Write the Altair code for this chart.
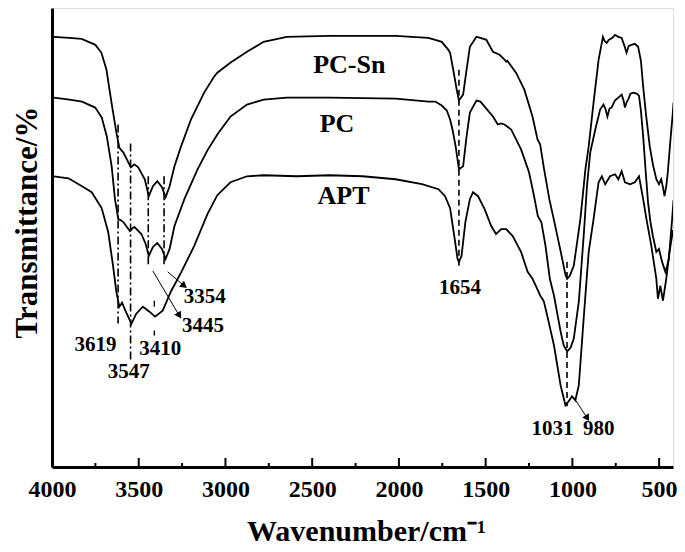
import altair as alt
import pandas as pd

FONT = "Liberation Serif"

# ---- spectra (wavenumber cm-1, transmittance in arbitrary offset units) ----
pcsn_wn = [3990, 3900, 3829, 3750, 3715, 3686, 3657, 3629, 3612, 3600, 3589, 3560, 3545, 3525, 3503,
           3465, 3442, 3418, 3393, 3366, 3345, 3322, 3294, 3256, 3199, 3123, 3066, 3047, 2972, 2876,
           2780, 2647, 2402, 2019, 1831, 1791, 1753, 1715, 1705, 1687, 1667, 1654, 1630, 1610, 1591,
           1553, 1530, 1496, 1458, 1420, 1390, 1382, 1375, 1325, 1277, 1230, 1201, 1186, 1163, 1133,
           1105, 1067, 1040, 1030, 1015, 992, 954, 925, 906, 878, 849, 824, 815, 802, 790, 770, 754,
           735, 716, 700, 688, 675, 659, 640, 621, 605, 592, 575, 554, 535, 516, 501, 488, 478, 469,
           458, 450, 435, 421, 417]
pcsn_t = [444, 443, 442, 436, 428, 411, 378, 348, 333, 330, 328, 318, 313, 316, 313,
          301, 284, 294, 299, 293, 283, 294, 314, 334, 361, 388, 404, 408, 418, 429,
          439, 444, 445, 445, 443, 441, 439, 431, 428, 411, 391, 380, 386, 411, 434,
          444, 443, 441, 429, 426, 421, 419, 420, 408, 391, 364, 341, 336, 311, 281,
          259, 228, 205, 201, 204, 214, 261, 311, 334, 378, 421, 444, 440, 438, 441, 443, 446,
          444, 443, 435, 428, 435, 436, 437, 434, 420, 394, 365, 334, 315, 301, 296, 301, 293, 284,
          295, 308, 340, 368, 378]

pc_wn = [3990, 3900, 3827, 3751, 3713, 3684, 3656, 3637, 3618, 3605, 3589, 3551, 3535, 3524, 3485,
         3460, 3442, 3418, 3393, 3366, 3345, 3322, 3294, 3237, 3161, 3104, 3047, 2971, 2876, 2780,
         2647, 2400, 2019, 1829, 1791, 1753, 1724, 1705, 1690, 1673, 1654, 1630, 1610, 1591, 1553,
         1530, 1506, 1458, 1430, 1410, 1392, 1353, 1296, 1250, 1221, 1199, 1179, 1155, 1130, 1106,
         1068, 1050, 1030, 1010, 992, 963, 935, 916, 897, 868, 840, 821, 810, 798, 786, 774, 755,
         735, 716, 705, 697, 688, 679, 665, 650, 630, 616, 605, 592, 578, 564, 550, 536, 516, 501,
         483, 464, 454, 444, 425, 417]
pc_t = [383, 381, 379, 373, 363, 344, 314, 281, 261, 260, 258, 249, 252, 253, 246,
        236, 224, 233, 237, 231, 221, 231, 254, 281, 311, 330, 346, 364, 376, 381,
        383, 383, 382, 379, 379, 375, 370, 361, 350, 334, 311, 314, 344, 368, 380,
        379, 374, 364, 356, 357, 356, 351, 331, 308, 284, 264, 258, 234, 201, 184,
        148, 134, 128, 132, 141, 178, 244, 294, 328, 351, 371, 376, 372, 364, 372, 373, 380,
        383, 386, 380, 373, 378, 381, 387, 388, 387, 385, 370, 344, 310, 278, 258, 244, 228, 231,
        218, 208, 214, 221, 261, 280]

apt_wn = [3990, 3905, 3827, 3771, 3714, 3676, 3648, 3629, 3612, 3596, 3577, 3542, 3514, 3476, 3438,
          3406, 3362, 3315, 3257, 3180, 3104, 3047, 2971, 2876, 2780, 2590, 2400, 2210, 2019, 1867,
          1772, 1734, 1705, 1681, 1662, 1654, 1639, 1617, 1591, 1573, 1544, 1506, 1468, 1440, 1411,
          1382, 1344, 1296, 1258, 1230, 1200, 1185, 1170, 1164, 1145, 1106, 1068, 1040, 1021, 1002,
          983, 963, 935, 906, 878, 849, 830, 811, 783, 754, 735, 716, 697, 668, 640, 616, 592, 573,
          545, 516, 507, 493, 478, 459, 440, 420]
apt_t = [304, 302, 294, 288, 272, 248, 214, 188, 173, 177, 169, 156, 166, 173, 168,
         163, 169, 188, 207, 234, 266, 285, 298, 304, 305, 304, 305, 304, 301, 296,
         291, 284, 272, 244, 221, 218, 224, 258, 281, 288, 284, 271, 254, 246, 251,
         251, 244, 228, 208, 201, 190, 184, 180, 178, 164, 134, 94, 74, 78, 83,
         79, 94, 161, 228, 261, 298, 304, 296, 304, 306, 301, 309, 298, 296, 298, 304, 281, 261,
         234, 201, 181, 194, 179, 201, 228, 250]

# ---- curve labels ----
name_text = ["PC-Sn", "PC", "APT"]
name_wn = [2286, 2357, 2319]
name_t = [408, 348, 276]

# ---- peak labels ----
peak_text = ["3354", "3445", "3619", "3410", "3547", "1654", "1031", "980"]
peak_wn = [3119, 3129, 3749, 3376, 3557, 1648, 1115, 848]
peak_t = [177, 148, 129, 124, 101, 186, 44, 44]

# ---- vertical marker lines ----
dash_wn = [1654, 1031]
dash_top = [411, 218]
dash_bot = [214, 73]
dashdot_wn = [3619, 3547, 3445, 3354]
dashdot_top = [356, 337, 304, 304]
dashdot_bot = [156, 119, 214, 214]
short_wn = [3410, 3410]
short_top = [179, 149]
short_bot = [173, 144]

# ---- arrows ----
arrow_wn1 = [3419, 3333, 981]
arrow_t1 = [209, 208, 79]
arrow_wn2 = [3266, 3238, 914]
arrow_t2 = [164, 194, 61]
arrow_angle = [148, 129, 148]

# ---- axis ticks ----
major_ticks = [4000, 3500, 3000, 2500, 2000, 1500, 1000, 500]
minor_ticks = [3750, 3250, 2750, 2250, 1750, 1250, 750]

W, H = 621, 459

rows = []
for name, wn, tt in [("PC-Sn", pcsn_wn, pcsn_t), ("PC", pc_wn, pc_t), ("APT", apt_wn, apt_t)]:
    for w, v in zip(wn, tt):
        rows.append({"series": name, "wn": w, "t": v})
df = pd.DataFrame(rows)

xs = alt.Scale(domain=[420, 4000], reverse=True, nice=False, zero=False)
ys = alt.Scale(domain=[12, 473], nice=False, zero=False)

x_axis = alt.Axis(values=major_ticks, format="d", ticks=False, grid=False, labelFlush=False,
                  labelOverlap=False,
                  labelFont=FONT, labelFontSize=24, labelFontWeight="bold", labelColor="black",
                  labelPadding=10, domainColor="black", domainWidth=3,
                  titleFont=FONT, titleFontSize=30, titleFontWeight="bold", titleColor="black",
                  titleX=314, titleY=73, titleAlign="center", titleBaseline="alphabetic")
y_axis = alt.Axis(labels=False, ticks=False, grid=False, domainColor="black", domainWidth=3,
                  titleFont=FONT, titleFontSize=31, titleFontWeight="bold", titleColor="black",
                  titleX=-16, titleY=214, titleAngle=270, titleAlign="center",
                  titleBaseline="alphabetic")

curves = alt.Chart(df).mark_line(color="black", strokeWidth=1.8, clip=True).encode(
    x=alt.X("wn:Q", scale=xs, axis=x_axis, title="Wavenumber/cm⁻¹"),
    y=alt.Y("t:Q", scale=ys, axis=y_axis, title="Transmittance/%"),
    detail="series:N",
)

names = alt.Chart(pd.DataFrame({"txt": name_text, "wn": name_wn, "t": name_t})).mark_text(
    font=FONT, fontSize=26, fontWeight="bold", color="black", align="center", baseline="alphabetic"
).encode(x=alt.X("wn:Q", scale=xs), y=alt.Y("t:Q", scale=ys), text="txt:N")

peaks = alt.Chart(pd.DataFrame({"txt": peak_text, "wn": peak_wn, "t": peak_t})).mark_text(
    font=FONT, fontSize=21, fontWeight="bold", color="black", align="center", baseline="alphabetic"
).encode(x=alt.X("wn:Q", scale=xs), y=alt.Y("t:Q", scale=ys), text="txt:N")

dashed = alt.Chart(pd.DataFrame({"wn": dash_wn, "a": dash_top, "b": dash_bot})).mark_rule(
    color="black", strokeWidth=1.6, strokeDash=[6, 4]
).encode(x=alt.X("wn:Q", scale=xs), y=alt.Y("a:Q", scale=ys), y2="b:Q")

dashdot = alt.Chart(pd.DataFrame({"wn": dashdot_wn, "a": dashdot_top, "b": dashdot_bot})).mark_rule(
    color="black", strokeWidth=1.6, strokeDash=[8, 3, 2, 3]
).encode(x=alt.X("wn:Q", scale=xs), y=alt.Y("a:Q", scale=ys), y2="b:Q")

shorts = alt.Chart(pd.DataFrame({"wn": short_wn, "a": short_top, "b": short_bot})).mark_rule(
    color="black", strokeWidth=1.4
).encode(x=alt.X("wn:Q", scale=xs), y=alt.Y("a:Q", scale=ys), y2="b:Q")

arrow_df = pd.DataFrame({"w1": arrow_wn1, "t1": arrow_t1, "w2": arrow_wn2, "t2": arrow_t2,
                         "ang": arrow_angle})
arrow_lines = alt.Chart(arrow_df).mark_rule(color="black", strokeWidth=1).encode(
    x=alt.X("w1:Q", scale=xs), x2="w2:Q", y=alt.Y("t1:Q", scale=ys), y2="t2:Q")
arrow_heads = alt.Chart(arrow_df).mark_point(shape="triangle-up", filled=True, color="black",
                                             size=60, opacity=1).encode(
    x=alt.X("w2:Q", scale=xs), y=alt.Y("t2:Q", scale=ys),
    angle=alt.Angle("ang:Q", scale=None))

tick_df = pd.DataFrame({"wn": major_ticks + minor_ticks,
                        "kind": ["major"] * len(major_ticks) + ["minor"] * len(minor_ticks)})
major = alt.Chart(tick_df).transform_filter("datum.kind == 'major'").mark_rule(
    color="black", strokeWidth=2).encode(
    x=alt.X("wn:Q", scale=xs), y=alt.value(H - 9), y2=alt.value(H))
minor = alt.Chart(tick_df).transform_filter("datum.kind == 'minor'").mark_rule(
    color="black", strokeWidth=2).encode(
    x=alt.X("wn:Q", scale=xs), y=alt.value(H - 4), y2=alt.value(H))

chart = alt.layer(curves, dashed, dashdot, shorts, arrow_lines, arrow_heads, names, peaks,
                  major, minor).properties(
    width=W, height=H,
    autosize=alt.AutoSizeParams(type="none"),
    padding={"left": 44, "top": 0, "right": 4, "bottom": 81},
).configure_view(stroke="black", strokeWidth=3).configure(background="white")

chart.save("out.html", embed_options={"renderer": "svg", "actions": False})
